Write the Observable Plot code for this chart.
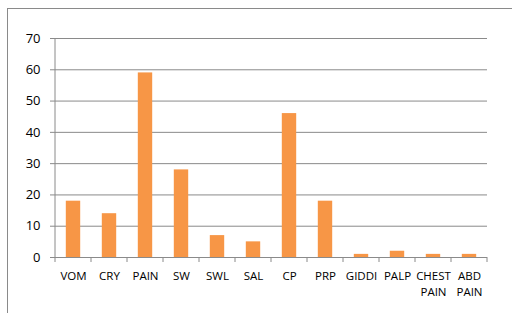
<!DOCTYPE html>
<html><head><meta charset="utf-8">
<script src="https://cdn.jsdelivr.net/npm/d3@7"></script>
<script src="https://cdn.jsdelivr.net/npm/@observablehq/plot@0.6"></script>
<style>
html,body{margin:0;padding:0;background:#fff;}
#wrap{position:relative;width:512px;height:313px;overflow:hidden;}
#border{position:absolute;left:7px;top:8px;width:600px;height:400px;border:1px solid #8a8a8a;box-sizing:border-box;}
#chart{position:absolute;left:0;top:0;}
</style></head>
<body><div id="wrap"><div id="border"></div><div id="chart"></div></div>
<script>
const categories = ["VOM","CRY","PAIN","SW","SWL","SAL","CP","PRP","GIDDI","PALP","CHEST PAIN","ABD PAIN"];
const values = [18,14,59,28,7,5,46,18,1,2,1,1];
const yTicks = [0,10,20,30,40,50,60,70];

const data = categories.map((c,i)=>({cat:c, v:values[i]}));
const font = "Open Sans, Noto Sans, sans-serif";

const chart = Plot.plot({
  width: 512, height: 313,
  marginLeft: 55, marginRight: 25, marginTop: 38, marginBottom: 56,
  style: {fontFamily: font, background: "transparent"},
  x: {domain: categories, paddingInner: 0.6, paddingOuter: 0.3, round: false},
  y: {domain: [0,70]},
  marks: [
    Plot.gridY(yTicks, {stroke: "#8a8a8a", strokeOpacity: 1, strokeWidth: 1}),
    Plot.barY(data, {x: "cat", y: "v", fill: "#F79646"}),
    Plot.ruleY([0], {stroke: "#8a8a8a"}),
    Plot.axisY(yTicks, {tickSize: 5, tickPadding: 10, stroke: "#8a8a8a", fontSize: 13, fill: "#000", label: null}),
    Plot.axisX({tickSize: 0, tickPadding: 11, fontSize: 11.5, fill: "#000", label: null, lineHeight: 1.4,
      tickFormat: d => d.replace(" ", "\n")})
  ]
});
const sx = chart.scale("x");
const sy = chart.scale("y");
const svg = d3.select(chart);
const step = sx.step;
const y0 = sy.apply(0);
// y-axis line
svg.append("line").attr("x1", sx.range[0]).attr("x2", sx.range[0])
  .attr("y1", sy.apply(70)).attr("y2", y0).attr("stroke", "#8a8a8a");
// category boundary ticks
const bounds = categories.map(c => sx.apply(c) - step*0.3);
bounds.push(sx.range[1]);
svg.append("g").selectAll("line").data(bounds).join("line")
  .attr("x1", d=>d).attr("x2", d=>d).attr("y1", y0).attr("y2", y0+5).attr("stroke", "#8a8a8a");
document.getElementById("chart").append(chart);
</script></body></html>
